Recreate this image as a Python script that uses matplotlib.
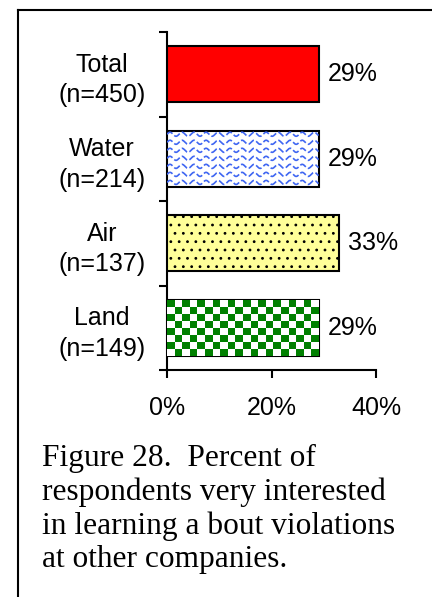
import numpy as np
import matplotlib
matplotlib.use("Agg")
import matplotlib.pyplot as plt
from matplotlib.lines import Line2D

# data
categories = ["Total\n(n=450)", "Water\n(n=214)", "Air\n(n=137)", "Land\n(n=149)"]
values = [0.29, 0.29, 0.33, 0.29]
value_labels = ["29%", "29%", "33%", "29%"]
xticks = [0.0, 0.2, 0.4]
xtick_labels = ["0%", "20%", "40%"]
caption = ("Figure 28.  Percent of\nrespondents very interested\n"
           "in learning a bout violations\nat other companies.")

plt.rcParams['font.family'] = ['Liberation Sans', 'DejaVu Sans']
plt.rcParams['hatch.color'] = "#555555"
plt.rcParams['hatch.linewidth'] = 0.8

fig = plt.figure(figsize=(4.32, 5.97), dpi=100)
W, H = 432, 597
ax = fig.add_axes([167 / W, 1 - 370 / H, (376 - 167) / W, (370 - 32) / H])

ypos = np.arange(len(categories))[::-1]
bars = ax.barh(ypos, values, height=0.66, color="white", edgecolor="black",
               linewidth=1.5, zorder=3)

# Total: solid red
bars[0].set_facecolor("#ff0000")

# Air: pale yellow with dots
bars[2].set_facecolor("#ffff99")
bars[2].set_hatch("..")

ax.set_xlim(0, 0.4)
ax.set_ylim(-0.5, 3.5)

# Water: blue wavy texture clipped to the bar
b = bars[1]
x0, y0, bw, bh = b.get_x(), b.get_y(), b.get_width(), b.get_height()
xs = np.linspace(x0, x0 + bw, 800)
for yy in np.arange(y0 + 0.05, y0 + bh, 0.095):
    ln, = ax.plot(xs, yy + 0.024 * np.sin(2 * np.pi * xs / 0.023),
                  color="#3f66f2", lw=1.2, ls=(0, (4, 1.5)), zorder=3.5)
    ln.set_clip_path(b)

# Land: green checkerboard clipped to the bar
b = bars[3]
x0, y0, bw, bh = b.get_x(), b.get_y(), b.get_width(), b.get_height()
nx = int(round(bw / 0.0145))
ny = int(round(bh / 0.088))
checker = (np.add.outer(np.arange(ny), np.arange(nx)) % 2).astype(float)
im = ax.imshow(checker, extent=[x0, x0 + bw, y0, y0 + bh],
               cmap=matplotlib.colors.ListedColormap(["#008000", "white"]),
               interpolation="nearest", aspect="auto", zorder=3.2)
im.set_clip_path(b)
ax.set_xlim(0, 0.4)
ax.set_ylim(-0.5, 3.5)

for rect, lab in zip(bars, value_labels):
    ax.text(rect.get_width() + 0.017, rect.get_y() + rect.get_height() / 2, lab,
            va="center", ha="left", fontsize=18, zorder=5)

for s in ["top", "right"]:
    ax.spines[s].set_visible(False)
for s in ["left", "bottom"]:
    ax.spines[s].set_linewidth(1.5)

ax.set_xticks(xticks)
ax.set_xticklabels(xtick_labels, fontsize=18)
ax.tick_params(axis="x", direction="out", length=6, width=1.5, pad=13)

ax.set_yticks(ypos)
ax.set_yticklabels(categories, fontsize=18, ha="center", linespacing=1.35)
ax.tick_params(axis="y", which="major", length=0, pad=47)
ax.set_yticks(np.arange(-0.5, 4.0, 1.0), minor=True)
ax.tick_params(axis="y", which="minor", direction="out", length=6, width=1.5)

fig.text(42 / W, 1 - 444 / H, caption, family=['Liberation Serif', 'DejaVu Serif'],
         fontsize=22.6, va="top", ha="left", linespacing=1.2)

# page frame (left and top edges)
fig.add_artist(Line2D([18 / W, 18 / W], [0, 1 - 10 / H], color="black", lw=1.5,
                      transform=fig.transFigure))
fig.add_artist(Line2D([18 / W, 1], [1 - 10 / H, 1 - 10 / H], color="black", lw=1.5,
                      transform=fig.transFigure))

fig.savefig("out.png", dpi=100)
